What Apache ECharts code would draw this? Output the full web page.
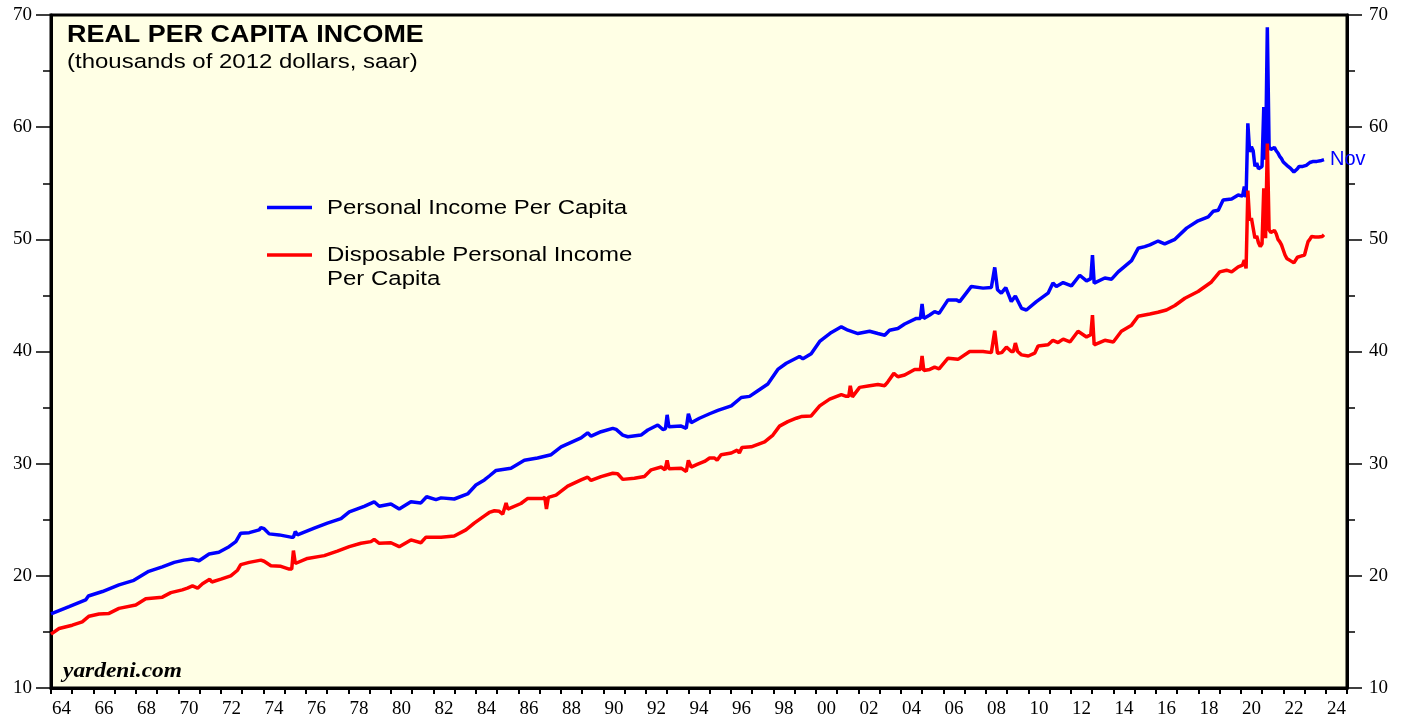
<!DOCTYPE html>
<html>
<head>
<meta charset="utf-8">
<script src="https://cdn.jsdelivr.net/npm/echarts@6/dist/echarts.min.js"></script>
<style>
  html, body { margin: 0; padding: 0; background: #fff; }
  #chart { width: 1407px; height: 719px; }
</style>
</head>
<body>
<div id="chart"></div>
<script>
// year tick labels (category boundaries 1964..2025)
const years = [];
for (let y = 1964; y <= 2024; y++) years.push(String(y).slice(2));

// Personal income per capita (thousands of 2012 $), time in decimal years
const piTime = [
  1964.0, 1964.85, 1965.63, 1965.76, 1966.42, 1967.2, 1967.9, 1968.6, 1969.24, 1969.8,
  1970.26, 1970.66, 1970.97, 1971.44, 1971.52, 1971.9, 1972.38, 1972.7, 1972.93, 1973.33,
  1973.8, 1973.88, 1974.03, 1974.27, 1974.74, 1975.29, 1975.41, 1975.5, 1975.6, 1976.39,
  1977.01, 1977.65, 1978.04, 1978.74, 1979.21, 1979.45, 1980.0, 1980.39, 1980.94, 1981.41,
  1981.68, 1982.12, 1982.36, 1982.98, 1983.61, 1984.0, 1984.4, 1984.63, 1984.95, 1985.65,
  1986.28, 1986.9, 1987.54, 1988.01, 1988.95, 1989.26, 1989.42, 1989.89, 1990.44, 1990.6,
  1990.91, 1991.15, 1991.77, 1992.09, 1992.56, 1992.8, 1992.92, 1993.0, 1993.08, 1993.66,
  1993.9, 1994.0, 1994.13, 1994.52, 1995.0, 1995.39, 1996.02, 1996.49, 1996.88, 1997.27,
  1997.74, 1998.21, 1998.61, 1999.23, 1999.39, 1999.78, 2000.18, 2000.73, 2001.2, 2001.51,
  2001.98, 2002.53, 2002.92, 2003.24, 2003.47, 2003.86, 2004.18, 2004.73, 2004.92, 2005.0,
  2005.08, 2005.36, 2005.59, 2005.8, 2006.22, 2006.61, 2006.77, 2007.32, 2007.87, 2008.26,
  2008.34, 2008.42, 2008.55, 2008.73, 2008.94, 2009.2, 2009.39, 2009.68, 2009.91, 2010.38,
  2010.93, 2011.16, 2011.32, 2011.64, 2012.03, 2012.42, 2012.74, 2012.94, 2013.02, 2013.1,
  2013.6, 2013.92, 2014.23, 2014.86, 2015.17, 2015.48, 2015.72, 2016.11, 2016.42, 2016.9,
  2017.45, 2017.99, 2018.47, 2018.7, 2018.94, 2019.17, 2019.57, 2019.88,
  2020.083, 2020.167, 2020.25, 2020.333, 2020.417, 2020.5, 2020.583, 2020.667, 2020.75, 2020.833,
  2020.917, 2021.0, 2021.083, 2021.167, 2021.25, 2021.333, 2021.417, 2021.5, 2021.583, 2021.667,
  2021.75, 2021.833, 2021.917, 2022.0, 2022.083, 2022.167, 2022.25, 2022.333, 2022.417, 2022.5,
  2022.583, 2022.667, 2022.75, 2022.833, 2022.917, 2023.0, 2023.083, 2023.167, 2023.25, 2023.333,
  2023.417, 2023.5, 2023.583, 2023.667, 2023.75, 2023.833, 2023.917
];
const piValue = [
  16.6, 17.25, 17.85, 18.2, 18.6, 19.2, 19.6, 20.4, 20.8, 21.2,
  21.4, 21.5, 21.35, 21.95, 21.8, 22.1, 22.6, 23.05, 23.8, 23.85,
  24.1, 24.3, 24.2, 23.74, 23.65, 23.45, 23.45, 23.95, 23.65, 24.25,
  24.7, 25.1, 25.7, 26.2, 26.6, 26.2, 26.4, 25.95, 26.6, 26.5,
  27.05, 26.8, 26.95, 26.85, 27.3, 28.1, 28.55, 28.9, 29.4, 29.6,
  30.3, 30.5, 30.8, 31.5, 32.3, 32.75, 32.45, 32.85, 33.15, 33.05,
  32.55, 32.4, 32.55, 33.0, 33.45, 33.05, 33.1, 34.35, 33.3, 33.35,
  33.15, 34.45, 33.65, 34.05, 34.45, 34.75, 35.15, 35.9, 36.0, 36.5,
  37.1, 38.4, 38.95, 39.55, 39.35, 39.8, 40.9, 41.7, 42.2, 41.9,
  41.6, 41.8, 41.6, 41.45, 41.9, 42.05, 42.45, 42.95, 42.95, 44.25,
  42.95, 43.25, 43.55, 43.4, 44.6, 44.6, 44.45, 45.8, 45.65, 45.7,
  45.7, 47.5, 45.5, 45.2, 45.7, 44.45, 44.95, 43.85, 43.7, 44.45,
  45.2, 46.1, 45.8, 46.15, 45.85, 46.8, 46.3, 46.5, 48.6, 46.1,
  46.55, 46.45, 47.1, 48.1, 49.2, 49.35, 49.5, 49.85, 49.6, 50.0,
  51.0, 51.65, 52.0, 52.5, 52.6, 53.5, 53.6, 53.95,
  53.85, 54.7, 53.75, 60.35, 57.8, 58.25, 57.9, 56.5, 56.8, 56.3,
  56.2, 56.5, 61.8, 57.1, 68.9, 58.25, 58.0, 58.1, 58.2, 57.9,
  57.7, 57.4, 57.2, 56.9, 56.9, 56.6, 56.5, 56.35, 56.3, 56.0,
  55.95, 56.3, 56.5, 56.5, 56.5, 56.5, 56.6, 56.7, 56.85, 56.9,
  56.95, 56.95, 56.95, 56.95, 57.0, 57.0, 57.1
];

// Disposable personal income per capita
const dpiTime = [
  1964.0, 1964.38, 1965.0, 1965.47, 1965.79, 1966.26, 1966.73, 1967.2, 1967.99, 1968.46,
  1969.24, 1969.64, 1970.18, 1970.42, 1970.66, 1970.9, 1971.13, 1971.47, 1971.57, 1972.0,
  1972.46, 1972.78, 1972.93, 1973.33, 1973.88, 1974.03, 1974.35, 1974.82, 1975.21, 1975.33,
  1975.41, 1975.5, 1976.07, 1976.86, 1977.48, 1978.04, 1978.59, 1979.06, 1979.21, 1979.45,
  1980.0, 1980.39, 1980.94, 1981.41, 1981.65, 1982.36, 1982.98, 1983.53, 1983.92, 1984.4,
  1984.63, 1984.87, 1985.1, 1985.26, 1985.34, 1985.42, 1985.5, 1986.12, 1986.44, 1987.14,
  1987.24, 1987.32, 1987.41, 1987.77, 1988.32, 1988.95, 1989.26, 1989.42, 1989.89, 1990.44,
  1990.67, 1990.91, 1991.46, 1991.93, 1992.25, 1992.72, 1992.9, 1993.0, 1993.08, 1993.66,
  1993.9, 1994.0, 1994.13, 1994.44, 1994.76, 1995.0, 1995.23, 1995.35, 1995.54, 1996.02,
  1996.3, 1996.4, 1996.52, 1996.96, 1997.59, 1997.98, 1998.29, 1998.68, 1999.08, 1999.31,
  1999.78, 2000.18, 2000.65, 2001.2, 2001.43, 2001.55, 2001.62, 2001.72, 2002.06, 2002.53,
  2002.92, 2003.24, 2003.39, 2003.67, 2003.86, 2004.18, 2004.65, 2004.92, 2005.0, 2005.08,
  2005.36, 2005.59, 2005.8, 2006.22, 2006.69, 2007.24, 2007.87, 2008.26, 2008.34, 2008.42,
  2008.55, 2008.75, 2008.97, 2009.2, 2009.3, 2009.39, 2009.5, 2009.68, 2010.0, 2010.3,
  2010.46, 2010.93, 2011.16, 2011.4, 2011.64, 2011.96, 2012.34, 2012.74, 2012.94, 2013.02,
  2013.1, 2013.6, 2014.0, 2014.38, 2014.86, 2015.17, 2015.72, 2016.1, 2016.5, 2016.9,
  2017.37, 2017.99, 2018.62, 2019.01, 2019.33, 2019.57, 2019.88,
  2020.083, 2020.167, 2020.25, 2020.333, 2020.417, 2020.5, 2020.583, 2020.667, 2020.75, 2020.833,
  2020.917, 2021.0, 2021.083, 2021.167, 2021.25, 2021.333, 2021.417, 2021.5, 2021.583, 2021.667,
  2021.75, 2021.833, 2021.917, 2022.0, 2022.083, 2022.167, 2022.25, 2022.333, 2022.417, 2022.5,
  2022.583, 2022.667, 2022.75, 2022.833, 2022.917, 2023.0, 2023.083, 2023.167, 2023.25, 2023.333,
  2023.417, 2023.5, 2023.583, 2023.667, 2023.75, 2023.833, 2023.917
];
const dpiValue = [
  14.8, 15.3, 15.6, 15.9, 16.4, 16.6, 16.65, 17.1, 17.4, 17.95,
  18.1, 18.5, 18.75, 18.9, 19.1, 18.9, 19.3, 19.7, 19.45, 19.7,
  20.0, 20.5, 21.0, 21.2, 21.4, 21.3, 20.9, 20.85, 20.6, 20.6,
  22.25, 21.1, 21.55, 21.8, 22.2, 22.6, 22.9, 23.05, 23.25, 22.9,
  22.95, 22.6, 23.2, 22.95, 23.45, 23.45, 23.55, 24.1, 24.7, 25.35,
  25.65, 25.8, 25.75, 25.5, 25.5, 26.5, 25.95, 26.45, 26.9, 26.9,
  27.0, 25.95, 27.0, 27.2, 28.0, 28.55, 28.8, 28.5, 28.85, 29.15,
  29.1, 28.6, 28.7, 28.85, 29.45, 29.7, 29.45, 30.3, 29.55, 29.6,
  29.3, 30.3, 29.7, 29.95, 30.2, 30.5, 30.5, 30.3, 30.8, 30.95,
  31.2, 30.95, 31.45, 31.5, 31.95, 32.55, 33.35, 33.75, 34.05, 34.2,
  34.25, 35.15, 35.75, 36.15, 36.0, 36.0, 36.95, 35.95, 36.8, 36.95,
  37.05, 36.95, 37.3, 38.05, 37.75, 37.9, 38.4, 38.4, 39.6, 38.3,
  38.4, 38.6, 38.45, 39.4, 39.3, 40.0, 40.0, 39.9, 39.9, 41.85,
  39.85, 39.9, 40.4, 40.0, 40.0, 40.75, 40.0, 39.7, 39.6, 39.85,
  40.5, 40.6, 41.0, 40.8, 41.1, 40.85, 41.8, 41.3, 41.5, 43.25,
  40.6, 41.0, 40.85, 41.8, 42.35, 43.15, 43.35, 43.5, 43.7, 44.1,
  44.75, 45.35, 46.2, 47.1, 47.25, 47.1, 47.55,
  47.7, 48.15, 47.4, 54.35, 51.7, 51.9, 51.8, 50.1, 50.3, 49.7,
  49.35, 49.6, 54.55, 50.1, 58.55, 50.85, 50.6, 50.6, 50.8, 50.5,
  50.0, 49.8, 49.5, 49.05, 48.6, 48.3, 48.2, 48.1, 48.0, 47.9,
  47.9, 48.4, 48.4, 48.5, 48.6, 48.6, 49.2, 49.8, 50.0, 50.25,
  50.2, 50.2, 50.2, 50.2, 50.15, 50.25, 50.4
];

const piData = piTime.map((t, i) => [t, piValue[i]]);
const dpiData = dpiTime.map((t, i) => [t, dpiValue[i]]);

const sans = '"Liberation Sans", Arial, sans-serif';
const serif = '"Liberation Serif", "Times New Roman", serif';
// the source picture is slightly stretched horizontally
const stretch = 1.17;

const yAxisBase = {
  type: 'value',
  min: 10,
  max: 70,
  interval: 10,
  axisLine: { show: true, lineStyle: { color: '#000', width: 3 } },
  axisTick: { show: true, length: 15, lineStyle: { color: '#000', width: 1.5 } },
  minorTick: { show: true, splitNumber: 2, length: 8, lineStyle: { color: '#000', width: 1.5 } },
  splitLine: { show: false },
  axisLabel: { color: '#000', fontFamily: serif, fontSize: 19 }
};

const options = {
  animation: false,
  backgroundColor: '#fff',
  grid: {
    left: 51, right: 60, top: 15, bottom: 31,
    show: true,
    backgroundColor: '#ffffe5',
    borderColor: '#000',
    borderWidth: 3
  },
  xAxis: [
    {
      type: 'category',
      data: years,
      boundaryGap: true,
      position: 'bottom',
      axisLine: { show: true, lineStyle: { color: '#000', width: 3 } },
      axisTick: { show: true, interval: 0, length: 6, lineStyle: { color: '#000', width: 2 } },
      axisLabel: { interval: 1, color: '#000', fontFamily: serif, fontSize: 19, margin: 12 },
      splitLine: { show: false }
    },
    {
      type: 'value',
      min: 1964,
      max: 2025,
      show: false
    }
  ],
  yAxis: [
    Object.assign({}, yAxisBase, { position: 'left', axisLabel: Object.assign({}, yAxisBase.axisLabel, { margin: 19 }) }),
    Object.assign({}, yAxisBase, { position: 'right', axisLabel: Object.assign({}, yAxisBase.axisLabel, { margin: 22 }) })
  ],
  series: [
    {
      name: 'Personal Income Per Capita',
      type: 'line',
      xAxisIndex: 1,
      yAxisIndex: 0,
      data: piData,
      showSymbol: false,
      lineStyle: { color: '#0000ff', width: 3.5 },
      itemStyle: { color: '#0000ff' },
      endLabel: {
        show: true,
        formatter: 'Nov',
        color: '#0000ff',
        fontFamily: sans,
        fontSize: 20,
        distance: 6
      }
    },
    {
      name: 'Disposable Personal Income Per Capita',
      type: 'line',
      xAxisIndex: 1,
      yAxisIndex: 0,
      data: dpiData,
      showSymbol: false,
      lineStyle: { color: '#ff0000', width: 3.5 },
      itemStyle: { color: '#ff0000' }
    }
  ],
  graphic: [
    // title
    { type: 'text', x: 67, y: 36, scaleX: stretch, style: { text: 'REAL PER CAPITA INCOME', font: 'bold 23px ' + sans, fill: '#000', verticalAlign: 'middle' } },
    { type: 'text', x: 67, y: 62, scaleX: stretch, style: { text: '(thousands of 2012 dollars, saar)', font: '20.5px ' + sans, fill: '#000', verticalAlign: 'middle' } },
    // legend
    { type: 'line', shape: { x1: 267, y1: 207.5, x2: 312, y2: 207.5 }, style: { stroke: '#0000ff', lineWidth: 3.5 } },
    { type: 'text', x: 327, y: 208, scaleX: stretch, style: { text: 'Personal Income Per Capita', font: '20.5px ' + sans, fill: '#000', verticalAlign: 'middle' } },
    { type: 'line', shape: { x1: 267, y1: 255, x2: 312, y2: 255 }, style: { stroke: '#ff0000', lineWidth: 3.5 } },
    { type: 'text', x: 327, y: 244, scaleX: stretch, style: { text: 'Disposable Personal Income\nPer Capita', font: '20.5px ' + sans, lineHeight: 23.5, fill: '#000', verticalAlign: 'top' } },
    // source
    { type: 'text', x: 63, y: 672, scaleX: stretch, style: { text: 'yardeni.com', font: 'italic bold 20px ' + serif, fill: '#000', verticalAlign: 'middle' } }
  ]
};

const chart = echarts.init(document.getElementById('chart'));
chart.setOption(options, true);
</script>
</body>
</html>
